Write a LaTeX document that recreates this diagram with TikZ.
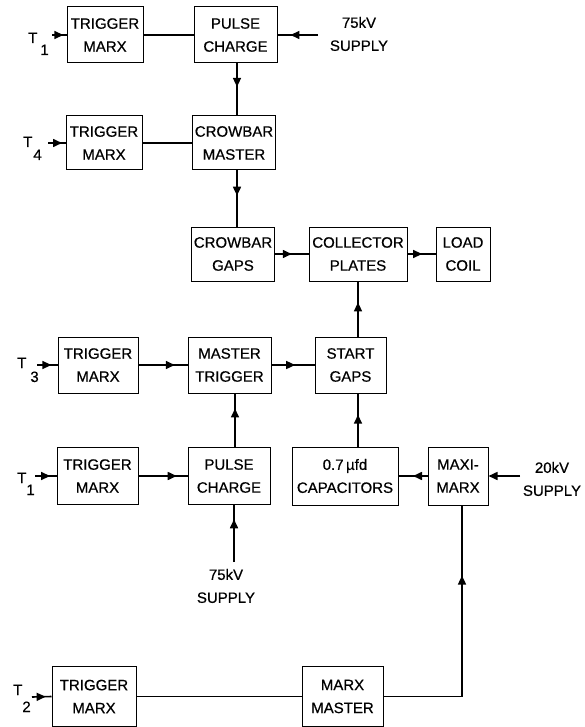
\documentclass[tikz,border=0pt]{standalone}
\usepackage{fontspec}
\setmainfont[FakeBold=0.6]{Liberation Sans}
\usetikzlibrary{arrows.meta,decorations.markings,calc}
\begin{document}
\begin{tikzpicture}[x=1pt,y=-1pt,
  box/.style={draw,line width=1pt,rectangle,inner sep=0pt,align=center,font=\fontsize{15}{23}\selectfont},
  sz/.style 2 args={minimum width=#1pt,minimum height=#2pt},
  lbl/.style={inner sep=0pt,align=center,font=\fontsize{15}{23}\selectfont},
  tlab/.style={inner sep=0pt,anchor=base west,font=\fontsize{15}{18}\selectfont},
  conn/.style={line width=1.6pt},
  arr/.style={postaction={decorate},decoration={markings,mark=at position #1 with {\arrow{Triangle[length=9pt,width=8pt]}}}},
  endarr/.style={-{Triangle[length=9pt,width=8pt]}}
]
\useasboundingbox (0,0) rectangle (584,727);

% boxes
\node[box,sz={76}{56}] (tm1) at (105,35) {TRIGGER\\MARX};
\node[box,sz={83}{56}] (pc1) at (235.5,35) {PULSE\\CHARGE};
\node[box,sz={76}{54}] (tm4) at (104,143) {TRIGGER\\MARX};
\node[box,sz={83}{54}] (cm) at (234,143) {CROWBAR\\MASTER};
\node[box,sz={83}{54}] (cg) at (233,254) {CROWBAR\\GAPS};
\node[box,sz={98}{54}] (cp) at (358,254) {COLLECTOR\\PLATES};
\node[box,sz={54}{54}] (lc) at (463,254) {LOAD\\COIL};
\node[box,sz={80}{56}] (tm3) at (98,365) {TRIGGER\\MARX};
\node[box,sz={83}{56}] (mt) at (229.5,365) {MASTER\\TRIGGER};
\node[box,sz={71}{56}] (sg) at (350.5,365) {START\\GAPS};
\node[box,sz={81}{57}] (tm1b) at (97.5,476) {TRIGGER\\MARX};
\node[box,sz={82}{57}] (pc2) at (229,476) {PULSE\\CHARGE};
\node[box,sz={106}{58}] (cap) at (345,476) {0.7\,µfd\\CAPACITORS};
\node[box,sz={60}{58}] (mx) at (458,476) {MAXI-\\MARX};
\node[box,sz={84}{60}] (tm2) at (94,696.5) {TRIGGER\\MARX};
\node[box,sz={81}{60}] (mm) at (342.5,696.5) {MARX\\MASTER};

% labels
\node[tlab] (l1) at (28,43) {T\hspace{3pt}\raisebox{-12pt}{1}};
\node[tlab] (l4) at (23,147) {T\hspace{1pt}\raisebox{-13pt}{4}};
\node[tlab] (l3) at (17,368) {T\hspace{4pt}\raisebox{-14pt}{3}};
\node[tlab] (l1b) at (17,483) {T\raisebox{-12pt}{1}};
\node[tlab] (l2) at (13,695) {T\raisebox{-17pt}{2}};
\node[lbl] (sup1) at (359,34) {75kV\\SUPPLY};
\node[lbl] (sup2) at (226,586) {75kV\\SUPPLY};
\node[lbl] (sup3) at (552,479) {20kV\\SUPPLY};

% free ends
\coordinate (t1s) at (52,35);
\coordinate (t4s) at (48,143);
\coordinate (t3s) at (37,365);
\coordinate (t1bs) at (35,476);
\coordinate (t2s) at (32,697);
\coordinate (s1) at (318,35);
\coordinate (s2) at (234,562);
\coordinate (s3) at (520,476);

% connectors
\draw[conn,arr=0.78] (t1s) -- (tm1.west);
\draw[conn] (tm1) -- (pc1);
\draw[conn,arr=0.68] (s1) -- (pc1.east);
\draw[conn,arr=0.45] ([xshift=1.5pt]pc1.south) -- ([xshift=1.5pt]pc1.south |- cm.north);
\draw[conn,arr=0.8] (t4s) -- (tm4.west);
\draw[conn] (tm4) -- (cm);
\draw[conn,arr=0.45] ([xshift=3pt]cm.south) -- ([xshift=3pt]cm.south |- cg.north);
\draw[conn,arr=0.5] (cg) -- (cp);
\draw[conn,arr=0.52] (cp) -- (lc);
\draw[conn,arr=0.7] (t3s) -- (tm3.west);
\draw[conn,arr=0.74] (tm3) -- (mt);
\draw[conn,arr=0.55] (mt) -- (sg);
\draw[conn,arr=0.62] (sg.north -| cp.south) -- (cp.south);
\draw[conn,arr=0.7] (t1bs) -- (tm1b.west);
\draw[conn,arr=0.78] (tm1b) -- (pc2);
\draw[conn,arr=0.72] ([xshift=6pt]pc2.north) -- ([xshift=6pt]pc2.north |- mt.south);
\draw[conn,arr=0.75] (s2) -- (s2 |- pc2.south);
\draw[conn,arr=0.6] (cap.north -| cp.south) -- (sg.south -| cp.south);
\draw[conn,arr=0.5] (mx) -- (cap);
\draw[conn,endarr] (s3) -- (mx.east);
\draw[conn,arr=0.7] (t2s) -- (tm2.west);
\draw[conn] (tm2) -- (mm);
\draw[conn,arr=0.74] (mm.east) -| ([xshift=4pt]mx.south);
\end{tikzpicture}
\end{document}
